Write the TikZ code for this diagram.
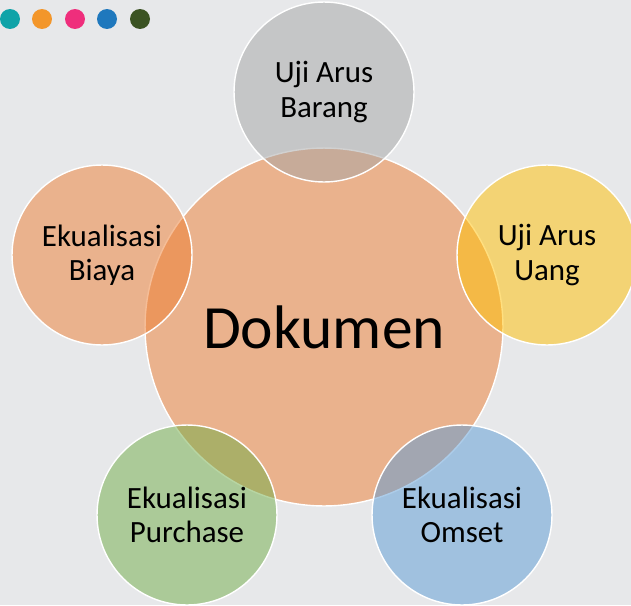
\documentclass[tikz,border=0pt]{standalone}
\usepackage{fontspec}
\setmainfont{Carlito}
\usepackage{tikz}

\definecolor{bgGray}{HTML}{E7E8EA}
\definecolor{accOrange}{HTML}{ED7D31}
\definecolor{accGray}{HTML}{A5A5A5}
\definecolor{accGold}{HTML}{FFC000}
\definecolor{accGreen}{HTML}{70AD47}
\definecolor{accBlue}{HTML}{5B9BD5}
\definecolor{dotTeal}{HTML}{0FA3A8}
\definecolor{dotOrange}{HTML}{F3962A}
\definecolor{dotPink}{HTML}{EF2E7C}
\definecolor{dotBlue}{HTML}{1F78BD}
\definecolor{dotGreen}{HTML}{3B5323}

\tikzset{
  bubble/.style={circle, draw=white, line width=0.8pt, fill opacity=0.5,
    draw opacity=1, text opacity=1, align=center, inner sep=0pt},
  small/.style={bubble, minimum size=3.6cm,
    font=\fontsize{17.6}{19.5}\selectfont},
  dot/.style={circle, inner sep=0pt, minimum size=0.4cm}
}

\begin{document}
\begin{tikzpicture}[x=0.02cm, y=-0.02cm]
\fill[bgGray] (0, 0) rectangle (631, 605);
\useasboundingbox (0, 0) rectangle (631, 605);
% dots in the corner
\node[dot, fill=dotTeal] (d1) at (10, 19) {};
\node[dot, fill=dotOrange] (d2) at (42, 19) {};
\node[dot, fill=dotPink] (d3) at (75, 19) {};
\node[dot, fill=dotBlue] (d4) at (107, 19) {};
\node[dot, fill=dotGreen] (d5) at (140, 19) {};
% centre
\node[bubble, fill=accOrange, minimum size=7.16cm,
  font=\fontsize{35}{40}\selectfont] (dok) at (324, 327) {Dokumen};
% around it
\node[small, fill=accGray] (barang) at (324, 92) {Uji Arus\\Barang};
\node[small, fill=accOrange] (biaya) at (102, 255) {Ekualisasi\\Biaya};
\node[small, fill=accGold] (uang) at (547, 255) {Uji Arus\\Uang};
\node[small, fill=accGreen] (purchase) at (187, 515) {Ekualisasi\\Purchase};
\node[small, fill=accBlue] (omset) at (462, 515) {Ekualisasi\\Omset};
\end{tikzpicture}
\end{document}
